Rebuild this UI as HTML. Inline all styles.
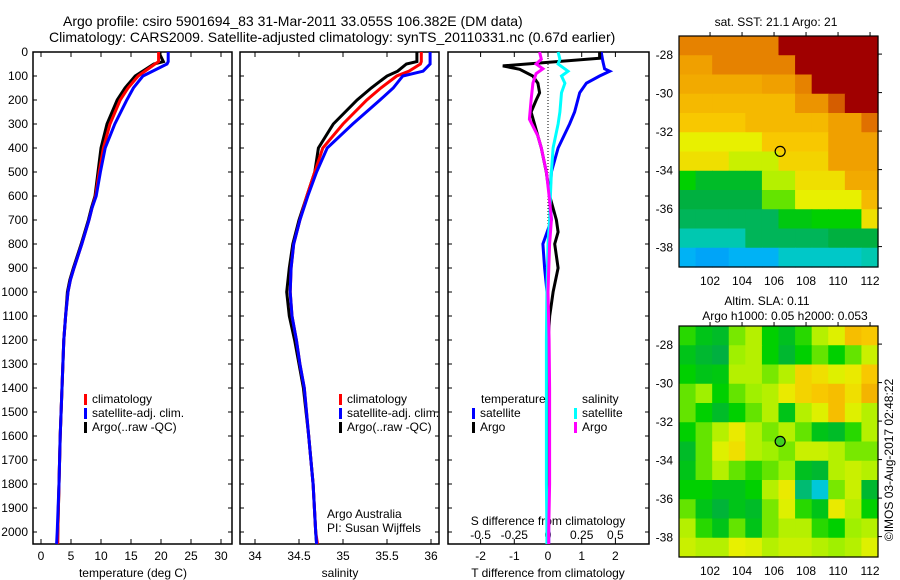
<!DOCTYPE html>
<html><head><meta charset="utf-8">
<style>
html,body{margin:0;padding:0;background:#fff;}
svg{display:block;font-family:"Liberation Sans",sans-serif;}
</style></head>
<body>
<svg id="fig" width="900" height="580" viewBox="0 0 900 580" xmlns="http://www.w3.org/2000/svg">
<text x="63" y="26" font-size="14">Argo profile: csiro 5901694_83 31-Mar-2011 33.055S 106.382E (DM data)</text>
<text x="49" y="42" font-size="14">Climatology: CARS2009. Satellite-adjusted climatology: synTS_20110331.nc (0.67d earlier)</text>
</svg>
<script>
// ---------- data ----------
const depthTicks = [0,100,200,300,400,500,600,700,800,900,1000,1100,1200,1300,1400,1500,1600,1700,1800,1900,2000];
const tempTicks = [0,5,10,15,20,25,30];
const salTicks = [34,34.5,35,35.5,36];
const salTickLabels = ["34","34.5","35","35.5","36"];
const tdiffTicks = [-2,-1,0,1,2];
const sdiffTicks = [-0.5,-0.25,0,0.25,0.5];
const sdiffTickLabels = ["-0.5","-0.25","0","0.25","0.5"];

const tDepth = [0,40,50,100,150,200,300,400,500,600,650,700,800,900,950,1000,1100,1200,1400,1600,1800,2000,2050];
const tempClim = [19.6,19.6,19.0,16.2,14.5,13.2,11.5,10.4,9.7,9.1,8.5,8.0,6.8,5.5,4.9,4.5,4.1,3.8,3.5,3.2,3.0,2.8,2.8];
const tempSat = [21.2,21.2,21.0,17.0,15.4,14.3,12.3,10.7,9.9,9.2,8.5,8.0,6.8,5.5,4.9,4.5,4.1,3.8,3.5,3.2,3.0,2.7,2.6];
const tempArgo = [19.6,20.4,18.8,15.7,14.0,12.7,11.0,10.0,9.5,9.0,8.4,7.9,6.7,5.4,4.8,4.4,4.1,3.8,3.5,3.2,3.0,2.8,2.75];

const sDepth = [0,40,50,80,100,150,200,300,400,500,600,700,800,900,1000,1100,1200,1300,1400,1600,1800,2000,2050];
const salSat = [35.99,35.99,35.99,35.91,35.68,35.57,35.42,35.11,34.82,34.70,34.60,34.51,34.44,34.41,34.40,34.42,34.47,34.51,34.56,34.61,34.66,34.69,34.70];
const salClim = [35.89,35.89,35.88,35.75,35.61,35.43,35.27,35.00,34.77,34.68,34.59,34.51,34.44,34.41,34.40,34.42,34.47,34.51,34.56,34.61,34.66,34.69,34.71];
const salArgo = [35.84,35.84,35.72,35.62,35.50,35.32,35.16,34.89,34.72,34.68,34.59,34.50,34.43,34.39,34.36,34.39,34.45,34.50,34.55,34.61,34.66,34.69,34.70];

const tdSatDepth = [0,40,70,80,100,130,170,250,300,400,500,600,700,800,900,1000,1200,1400,1600,1800,2000,2050];
const tdSat = [1.58,1.63,1.68,1.83,1.53,1.14,0.94,0.79,0.64,0.30,0.10,0.05,0.10,-0.15,-0.10,-0.03,0.02,0.0,0.0,0.0,0.02,0.02];
const tdArgoDepth = [0,26,58,72,100,130,170,200,250,300,350,400,500,600,700,750,800,900,1000,1100,1200,1400,1600,1800,2000,2040];
const tdArgo = [1.53,1.53,-1.34,-0.84,-0.45,-0.3,-0.25,-0.35,-0.5,-0.4,-0.3,-0.2,-0.05,0.05,0.25,0.3,0.2,0.3,0.15,0.05,0.0,0.0,-0.02,0.0,0.0,0.0];
const sdSatDepth = [0,30,50,80,100,130,170,250,300,400,500,600,700,800,1000,1200,1400,1600,1800,2000,2050];
const sdSat = [0.075,0.088,0.075,0.148,0.1,0.125,0.1,0.088,0.075,0.038,0.025,0.018,0.012,0,-0.008,-0.012,-0.012,-0.012,-0.012,-0.008,-0.008];
const sdArgoDepth = [0,30,50,70,90,130,200,280,350,400,500,600,700,800,1000,1200,1400,1600,1800,2000,2050];
const sdArgo = [-0.062,-0.05,-0.088,-0.038,-0.088,-0.112,-0.125,-0.138,-0.075,-0.05,-0.012,0.008,0.025,0.012,0,0.008,0.012,0.012,0.012,0.005,0.005];

const lonTicks = [102,104,106,108,110,112];
const latTicks = [-28,-30,-32,-34,-36,-38];
const argoLon = 106.382, argoLat = -33.055;
// normalized colour index (0 = dark blue ... 1 = dark red), rows north->south
const sstGrid = [
[0.85,0.85,0.85,0.85,0.85,0.85,1,1,1,1,1,1],
[0.8,0.8,0.85,0.85,0.85,0.85,0.85,1,1,1,1,1],
[0.78,0.78,0.78,0.78,0.78,0.8,0.8,0.85,1,1,1,1],
[0.75,0.75,0.75,0.75,0.75,0.75,0.75,0.82,0.82,0.9,1,1],
[0.72,0.72,0.72,0.72,0.75,0.75,0.75,0.75,0.75,0.8,0.8,0.88],
[0.65,0.65,0.65,0.65,0.65,0.72,0.72,0.72,0.72,0.8,0.8,0.8],
[0.68,0.68,0.68,0.62,0.62,0.62,0.7,0.7,0.7,0.8,0.8,0.8],
[0.5,0.45,0.45,0.45,0.45,0.6,0.6,0.68,0.68,0.68,0.78,0.78],
[0.42,0.42,0.42,0.42,0.42,0.55,0.55,0.65,0.65,0.65,0.65,0.75],
[0.4,0.4,0.4,0.4,0.4,0.4,0.48,0.48,0.5,0.5,0.5,0.68],
[0.33,0.33,0.33,0.33,0.4,0.4,0.4,0.4,0.4,0.42,0.42,0.42],
[0.22,0.2,0.2,0.22,0.22,0.22,0.3,0.3,0.3,0.3,0.3,0.33]];
const slaGrid = [
[0.52,0.47,0.45,0.56,0.6,0.5,0.46,0.52,0.6,0.64,0.74,0.72],
[0.47,0.44,0.42,0.58,0.6,0.5,0.44,0.5,0.55,0.5,0.55,0.62],
[0.5,0.47,0.48,0.6,0.6,0.56,0.6,0.7,0.68,0.64,0.66,0.72],
[0.55,0.58,0.5,0.55,0.58,0.6,0.66,0.7,0.72,0.74,0.68,0.76],
[0.55,0.5,0.45,0.5,0.55,0.6,0.47,0.6,0.64,0.74,0.64,0.6],
[0.5,0.55,0.6,0.66,0.6,0.56,0.6,0.55,0.47,0.45,0.52,0.6],
[0.45,0.55,0.64,0.68,0.6,0.58,0.56,0.62,0.62,0.6,0.56,0.56],
[0.47,0.55,0.6,0.55,0.52,0.55,0.58,0.46,0.44,0.6,0.62,0.6],
[0.5,0.5,0.47,0.47,0.5,0.6,0.66,0.38,0.28,0.56,0.62,0.44],
[0.55,0.47,0.43,0.47,0.45,0.56,0.64,0.52,0.47,0.66,0.6,0.5],
[0.6,0.52,0.47,0.55,0.47,0.56,0.6,0.6,0.52,0.5,0.58,0.6],
[0.62,0.6,0.6,0.65,0.64,0.6,0.62,0.62,0.6,0.58,0.6,0.64]];

// ---------- helpers ----------
const NS="http://www.w3.org/2000/svg";
const svg=document.getElementById('fig');
function mk(tag,attrs,parent){const e=document.createElementNS(NS,tag);for(const k in attrs)e.setAttribute(k,attrs[k]);(parent||svg).appendChild(e);return e;}
function txt(s,x,y,size,anchor,parent){const t=mk('text',{x:x,y:y,'font-size':size,'text-anchor':anchor||'start'},parent);t.textContent=s;return t;}

const Y0=52, PY=0.24;
const yD=d=>Y0+d*PY;
const panels=[{x0:33,x1:232},{x0:240,x1:439},{x0:448,x1:649}];
const PB=544;
const xT=v=>41+v*6;
const xS=v=>255+(v-34)*88;
const xTd=v=>548+v*33.7;
const xSd=v=>548+v*4*33.7;

function line(name,depths,vals,xf,color,w){
  const pts=depths.map((d,i)=>xf(vals[i]).toFixed(1)+','+yD(d).toFixed(1)).join(' ');
  const p=mk('polyline',{points:pts,fill:'none',stroke:color,'stroke-width':w,'stroke-linejoin':'miter'});
  
  
  return p;
}

// frames
panels.forEach((p,i)=>{
  const r=mk('rect',{x:p.x0,y:Y0,width:p.x1-p.x0,height:PB-Y0,fill:'none',stroke:'#000','stroke-width':1.5});
  
  
  depthTicks.forEach(d=>{
    mk('line',{x1:p.x0,x2:p.x0+4,y1:yD(d),y2:yD(d),stroke:'#000'});
    mk('line',{x1:p.x1-4,x2:p.x1,y1:yD(d),y2:yD(d),stroke:'#000'});
  });
});
depthTicks.forEach(d=>{
  const t=txt(String(d),28,yD(d)+4,12,'end');
  
  
});
tempTicks.forEach(v=>{
  mk('line',{x1:xT(v),x2:xT(v),y1:Y0,y2:Y0+5,stroke:'#000'});
  mk('line',{x1:xT(v),x2:xT(v),y1:PB-5,y2:PB,stroke:'#000'});
  const t=txt(String(v),xT(v),560,12,'middle');
  
  
});
let t=txt('temperature (deg C)',133,577,12,'middle');


salTicks.forEach((v,i)=>{
  mk('line',{x1:xS(v),x2:xS(v),y1:Y0,y2:Y0+5,stroke:'#000'});
  mk('line',{x1:xS(v),x2:xS(v),y1:PB-5,y2:PB,stroke:'#000'});
  const tt=txt(salTickLabels[i],xS(v),560,12,'middle');
  
  
});
t=txt('salinity',340,577,12,'middle');


tdiffTicks.forEach(v=>{
  mk('line',{x1:xTd(v),x2:xTd(v),y1:Y0,y2:Y0+5,stroke:'#000'});
  mk('line',{x1:xTd(v),x2:xTd(v),y1:PB-5,y2:PB,stroke:'#000'});
  const tt=txt(String(v),xTd(v),560,12,'middle');
  
  
});
sdiffTicks.forEach((v,i)=>{
  const tt=txt(sdiffTickLabels[i],xSd(v),539,12,'middle');
  
  
});
t=txt('S difference from climatology',548,525,12,'middle');


t=txt('T difference from climatology',548,577,12,'middle');



const z=mk('line',{x1:548,x2:548,y1:Y0,y2:PB,stroke:'#000','stroke-dasharray':'1,2'});



// series (drawing order: argo, climatology, satellite)
line('temp-argo-line',tDepth,tempArgo,xT,'#000000',3);
line('temp-climatology-line',tDepth,tempClim,xT,'#ff0000',3);
line('temp-satellite-line',tDepth,tempSat,xT,'#0000ff',3);
line('sal-argo-line',sDepth,salArgo,xS,'#000000',3);
line('sal-climatology-line',sDepth,salClim,xS,'#ff0000',3);
line('sal-satellite-line',sDepth,salSat,xS,'#0000ff',3);
line('tdiff-satellite-line',tdSatDepth,tdSat,xTd,'#0000ff',3);
line('tdiff-argo-line',tdArgoDepth,tdArgo,xTd,'#000000',3);
line('sdiff-satellite-line',sdSatDepth,sdSat,xSd,'#00ffff',3);
line('sdiff-argo-line',sdArgoDepth,sdArgo,xSd,'#ff00ff',3);

function leg(name,x,y,color,label){
  const g=mk('g',{});
  
  
  mk('rect',{x:x,y:y-9,width:3,height:11,fill:color},g);
  txt(label,x+8,y,12,'start',g);
}
leg('legend-climatology',84,403,'#ff0000','climatology');
leg('legend-satellite-adj',84,417,'#0000ff','satellite-adj. clim.');
leg('legend-argo',84,431,'#000000','Argo(..raw -QC)');
leg('legend-climatology-2',339,403,'#ff0000','climatology');
leg('legend-satellite-adj-2',339,417,'#0000ff','satellite-adj. clim.');
leg('legend-argo-2',339,431,'#000000','Argo(..raw -QC)');
t=txt('temperature',481,403,12);


t=txt('salinity',582,403,12);


leg('legend-t-satellite',472,417,'#0000ff','satellite');
leg('legend-t-argo',472,431,'#000000','Argo');
leg('legend-s-satellite',574,417,'#00ffff','satellite');
leg('legend-s-argo',574,431,'#ff00ff','Argo');
t=txt('Argo Australia',327,518,12);


t=txt('PI: Susan Wijffels',327,532,12);



// ---------- maps ----------
const cstops=[[0,[0,32,160]],[0.15,[0,128,255]],[0.25,[0,200,240]],[0.33,[0,200,176]],[0.42,[0,176,64]],[0.5,[0,208,0]],[0.58,[160,240,0]],[0.65,[232,240,0]],[0.72,[248,200,0]],[0.8,[240,160,0]],[0.88,[224,112,0]],[1,[160,0,0]]];
function cmap(v){
  for(let i=1;i<cstops.length;i++){if(v<=cstops[i][0]){const a=cstops[i-1],b=cstops[i];const f=(v-a[0])/(b[0]-a[0]);return 'rgb('+a[1].map((c,k)=>Math.round(c+(b[1][k]-c)*f)).join(',')+')';}}
  return 'rgb(160,0,0)';
}
const MX0=679,MX1=878,LON0=100.06,PXLON=16,PXLAT=19.25,LATTOP=-27.06;
function drawMap(name,top,grid,markerFill){
  const g=mk('g',{});
  
  
  const rows=grid.length, cols=grid[0].length;
  const cw=(MX1-MX0)/cols, ch=231/rows;
  grid.forEach((row,r)=>row.forEach((v,c)=>{
    const cell=mk('rect',{x:(MX0+c*cw).toFixed(2),y:(top+r*ch).toFixed(2),width:(cw+0.6).toFixed(2),height:(ch+0.6).toFixed(2),fill:cmap(v)},g);
    
    
  }));
  mk('rect',{x:MX0,y:top,width:MX1-MX0,height:231,fill:'none',stroke:'#000','stroke-width':1.2},g);
  const yl=lat=>top+(LATTOP-lat)*PXLAT;
  const xl=lon=>MX0+(lon-LON0)*PXLON;
  latTicks.forEach(l=>{
    mk('line',{x1:MX1,x2:MX1+4,y1:yl(l),y2:yl(l),stroke:'#000'},g);
    const tt=txt(String(l),673,yl(l)+5,12,'end',g);
    
    
  });
  lonTicks.forEach(l=>{
    mk('line',{x1:xl(l),x2:xl(l),y1:top-4,y2:top,stroke:'#000'},g);
    const tt=txt(String(l),xl(l),top+249,12,'middle',g);
    
    
  });
  const m=mk('circle',{cx:xl(argoLon),cy:yl(argoLat),r:5,fill:markerFill,stroke:'#000','stroke-width':1.2},g);
  
  
}
drawMap('sst-map',36,sstGrid,'none');
drawMap('sla-map',326,slaGrid,'#40d020');
t=txt('sat. SST: 21.1 Argo: 21',776,26,12,'middle');


t=txt('Altim. SLA: 0.11',767,305,12,'middle');


t=txt('Argo h1000: 0.05 h2000: 0.053',785,320,12,'middle');


t=txt('©IMOS 03-Aug-2017 02:48:22',0,0,12,'middle');
t.setAttribute('transform','translate(893,460) rotate(-90)');


</script>
</body></html>
